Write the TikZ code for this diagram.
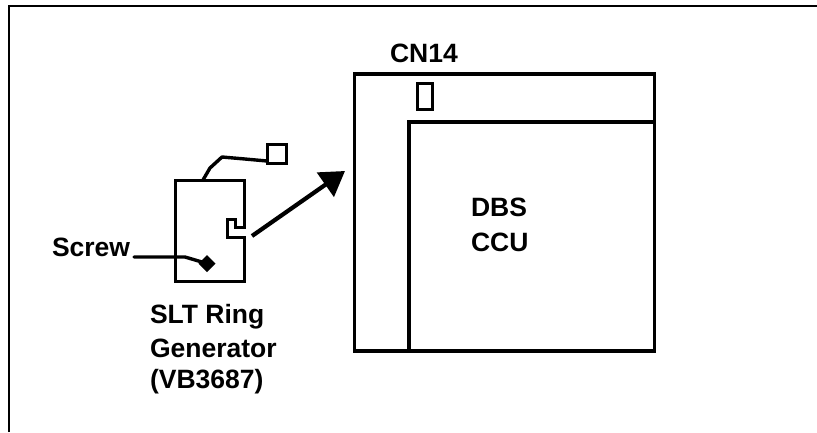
\documentclass[tikz,border=0pt]{standalone}
\usepackage{fontspec}
\setmainfont{Liberation Sans}
\usetikzlibrary{arrows.meta,shapes.geometric}
\tikzset{
  x=1pt,y=-1pt,
  frameline/.style={line width=2.6pt,black},
  boxline/.style={line width=3.4pt,black,line join=miter},
  partline/.style={line width=3pt,black,line join=miter},
  txt/.style={inner sep=0pt,outer sep=0pt,align=left,font=\fontsize{26.5}{33}\selectfont\bfseries,text=black},
  diagarrow/.style={line width=4.2pt,black,-{Triangle[length=24pt,width=29pt]}},
  wire/.style={line width=3.4pt,black,line join=round,line cap=round}
}
\begin{document}
\begin{tikzpicture}
\useasboundingbox (0,0) rectangle (817,432);
% frame
\draw[frameline] (9,432) -- (9,6) -- (817,6);
% CCU board
\node[draw,boxline,minimum width=300pt,minimum height=277pt,inner sep=0pt,outer sep=0pt,anchor=north west] (board) at (354.5,74) {};
\coordinate (innerTR) at (654.5,122);
\coordinate (innerTL) at (409,122);
\coordinate (innerBL) at (409,351);
\draw[boxline] (innerTR) -- (innerTL) -- (innerBL);
\node[draw,partline,minimum width=15pt,minimum height=26pt,inner sep=0pt,outer sep=0pt,anchor=north west] (cn) at (417,83) {};
\node[txt,anchor=base west] (cnlabel) at (390,62) {CN14};
\node[txt,anchor=base west] (dbs) at (471,216) {DBS};
\node[txt,anchor=base west] (ccu) at (471,251) {CCU};
% ring generator
\draw[partline] (244,227) -- (235,227) -- (235,219) -- (227,219) -- (227,237) -- (244,237) -- (244,281) -- (175,281) -- (175,180) -- (244,180) -- cycle;
\coordinate (wirestart) at (203,180);
\coordinate (wirebend1) at (210,168);
\coordinate (wirebend2) at (222,157);
\coordinate (wirebend3) at (245,159);
\coordinate (wireend) at (267,161);
\node[draw,partline,minimum width=19pt,minimum height=19pt,inner sep=0pt,outer sep=0pt,anchor=north west] (plug) at (267,144) {};
\draw[wire] (wirestart) -- (wirebend1) -- (wirebend2) -- (wirebend3) -- (wireend);
% screw
\node[txt,anchor=base west] (screw) at (52,256) {Screw};
\node[diamond,fill=black,minimum width=17pt,minimum height=17pt,inner sep=0pt,outer sep=0pt] (screwhead) at (207,263.5) {};
\coordinate (screwstart) at (134,257);
\coordinate (screwbend) at (185,257);
\draw[wire] (screwstart) -- (screwbend) -- (screwhead.center);
% arrow
\coordinate (arrowstart) at (252,236);
\coordinate (arrowtip) at (345,171);
\draw[diagarrow] (arrowstart) -- (arrowtip);
% generator label
\node[txt,anchor=base west] (slt) at (150,323) {SLT Ring};
\node[txt,anchor=base west] (gen) at (150,357) {Generator};
\node[txt,anchor=base west] (vb) at (150,388) {(VB3687)};
\end{tikzpicture}
\end{document}
